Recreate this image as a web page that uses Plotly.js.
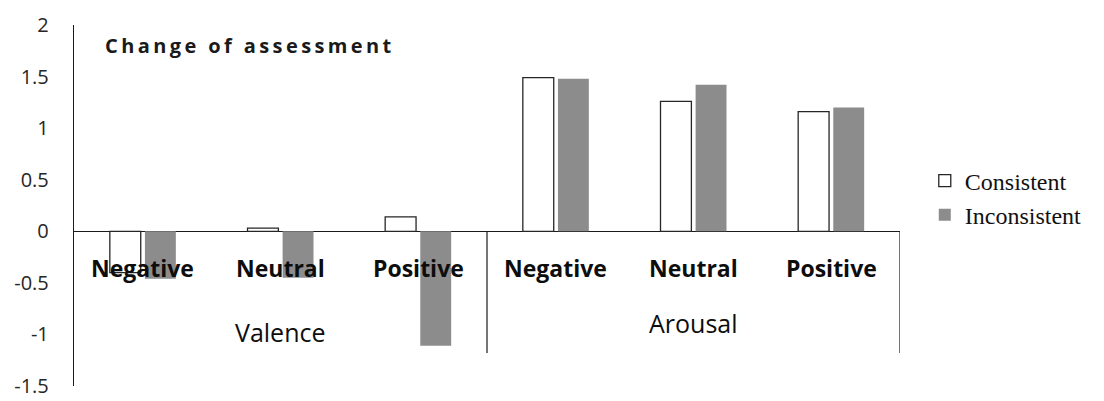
<!DOCTYPE html>
<html>
<head>
<meta charset="utf-8">
<script src="https://cdn.plot.ly/plotly-3.0.1.min.js"></script>
<style>
html,body{margin:0;padding:0;background:#fff;}
#chart{width:1104px;height:401px;}
.gtitle{letter-spacing:3.4px;}
</style>
</head>
<body>
<div id="chart"></div>
<script>
// ---- data ----
const groups = ["Valence", "Valence", "Valence", "Arousal", "Arousal", "Arousal"];
const subcats = ["Negative", "Neutral", "Positive", "Negative", "Neutral", "Positive"];
const consistent = [-0.40, 0.03, 0.14, 1.49, 1.26, 1.16];
const inconsistent = [-0.46, -0.45, -1.11, 1.48, 1.42, 1.20];
const groupNames = ["Valence", "Arousal"];
const yTicks = [-1.5, -1, -0.5, 0, 0.5, 1, 1.5, 2];
const yTickText = ["-1.5", "-1", "-0.5", "0", "0.5", "1", "1.5", "2"];

// unique category keys for the axis
const cats = groups.map((g, i) => g + " " + subcats[i]);

const traces = [
  {
    type: "bar", name: "Consistent", x: cats, y: consistent,
    marker: {color: "#ffffff", line: {color: "#262626", width: 1.3}}
  },
  {
    type: "bar", name: "Inconsistent", x: cats, y: inconsistent,
    marker: {color: "#8c8c8c", line: {width: 0}}
  }
];

const annotations = [];
subcats.forEach((s, i) => {
  annotations.push({
    x: i, y: -0.36, xref: "x", yref: "y", text: s, showarrow: false,
    font: {family: "Open Sans", size: 23, color: "#0d0d0d", weight: "bold"}
  });
});
annotations.push({x: 1, y: -0.98, xref: "x", yref: "y", text: groupNames[0], showarrow: false,
  font: {family: "Open Sans", size: 25, color: "#0d0d0d"}});
annotations.push({x: 4, y: -0.89, xref: "x", yref: "y", text: groupNames[1], showarrow: false,
  font: {family: "Open Sans", size: 25, color: "#0d0d0d"}});

const shapes = [2.5, 5.5].map(xv => ({
  type: "line", xref: "x", yref: "y", x0: xv, x1: xv, y0: 0, y1: -1.18,
  line: {color: "#1a1a1a", width: 1.2}
}));

const layout = {
  width: 1104, height: 401,
  margin: {l: 74, r: 204, t: 25, b: 15},
  paper_bgcolor: "#ffffff", plot_bgcolor: "#ffffff",
  showlegend: true,
  title: {
    text: "<b>Change of assessment</b>",
    x: 105 / 1104, xanchor: "left", y: 1 - 46 / 401, yanchor: "middle",
    font: {family: "Open Sans", size: 20, color: "#1a1a1a"}
  },
  barmode: "group",
  bargap: 0.49,
  bargroupgap: 0.12,
  xaxis: {
    type: "category", categoryorder: "array", categoryarray: cats,
    range: [-0.5, 5.5],
    showticklabels: false, showgrid: false, zeroline: false, showline: false, ticks: ""
  },
  yaxis: {
    range: [-1.5, 2],
    tickvals: yTicks, ticktext: yTickText,
    showgrid: false,
    zeroline: true, zerolinecolor: "#1a1a1a", zerolinewidth: 1.2,
    showline: true, linecolor: "#1a1a1a", linewidth: 1.2,
    ticks: "", ticklabelstandoff: 20,
    tickfont: {family: "Open Sans", size: 20, color: "#262626"}
  },
  legend: {
    x: 1.03, xanchor: "left", y: 0.63, yanchor: "top",
    font: {family: "Liberation Serif", size: 24, color: "#111111"},
    bgcolor: "rgba(0,0,0,0)", tracegroupgap: 0
  },
  annotations: annotations,
  shapes: shapes
};

Plotly.newPlot("chart", traces, layout, {displayModeBar: false, staticPlot: true});
</script>
</body>
</html>
